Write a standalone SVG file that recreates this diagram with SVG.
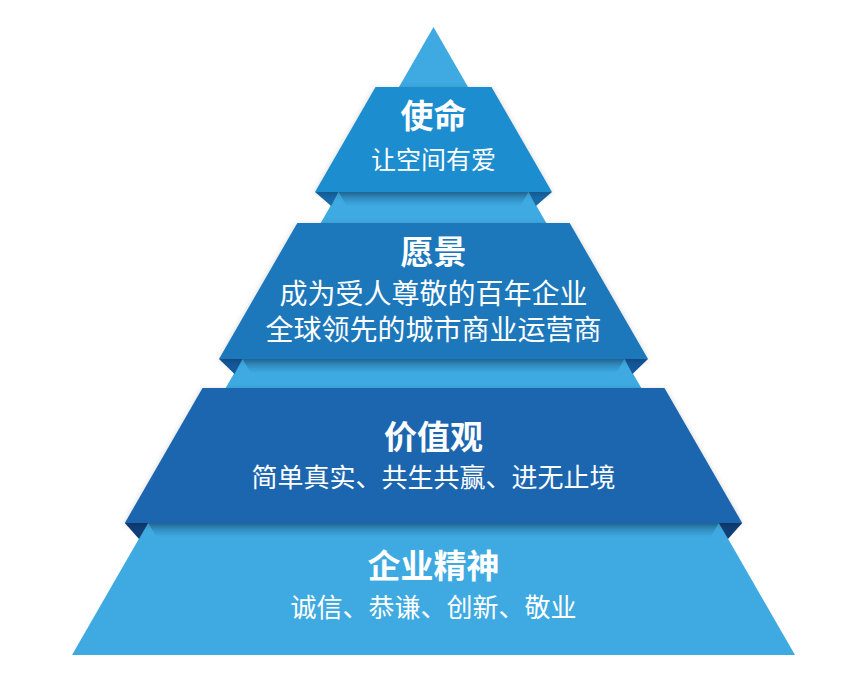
<svg xmlns="http://www.w3.org/2000/svg" width="859" height="688" viewBox="0 0 859 688">
  <style>
    .title { font-family: "Noto Sans CJK SC", "Noto Sans", sans-serif; font-weight: 700; font-size: 33px; fill: #ffffff; text-anchor: middle; }
    .body { font-family: "Noto Sans CJK SC", "Noto Sans", sans-serif; font-weight: 400; fill: #ffffff; text-anchor: middle; }
    .pyr { fill: #3eaae1; }
    .shade { fill: url(#shadeGrad); }
  </style>
  <defs>
    <linearGradient id="shadeGrad" x1="0" y1="0" x2="0" y2="1">
      <stop offset="0" stop-color="#0a3a6a" stop-opacity="0.45"/>
      <stop offset="1" stop-color="#0a3a6a" stop-opacity="0"/>
    </linearGradient>
    <filter id="drop" x="-10%" y="-10%" width="120%" height="130%">
      <feDropShadow dx="0" dy="2" stdDeviation="3" flood-color="#000" flood-opacity="0.22"/>
    </filter>
  </defs>
  <rect width="859" height="688" fill="#ffffff"/>

  <g id="pyramid">
    <polygon class="pyr" points="433.5,27 795,655 72,655"/>
    <polygon class="shade" points="338.6,192 528.4,192 520.4,206 346.6,206"/>
    <polygon class="shade" points="242.6,359 624.4,359 616.4,373 250.6,373"/>
    <polygon class="shade" points="148.3,523 718.7,523 710.7,537 156.3,537"/>
  </g>

  <g id="mission">
    <polygon points="315,192 338.6,192 331.1,206" fill="#176aa8"/>
    <polygon points="552,192 528.4,192 535.9,206" fill="#176aa8"/>
    <polygon points="375.5,87 491.5,87 552,192 315,192" fill="#1f8dce" filter="url(#drop)"/>
    <text class="title" x="433.5" y="128">使命</text>
    <text class="body" x="433.5" y="169" font-size="25">让空间有爱</text>
  </g>

  <g id="vision">
    <polygon points="219,359 242.6,359 234.5,374" fill="#14589b"/>
    <polygon points="648,359 624.4,359 632.5,374" fill="#14589b"/>
    <polygon points="297.3,223 569.7,223 648,359 219,359" fill="#1c77bb" filter="url(#drop)"/>
    <text class="title" x="433.5" y="264">愿景</text>
    <text class="body" x="433.5" y="304" font-size="28">成为受人尊敬的百年企业</text>
    <text class="body" x="433.5" y="340" font-size="28">全球领先的城市商业运营商</text>
  </g>

  <g id="values">
    <polygon points="124.8,523 148.3,523 139,539" fill="#0f3f79"/>
    <polygon points="742.2,523 718.7,523 728,539" fill="#0f3f79"/>
    <polygon points="202.5,388 664.5,388 742.2,523 124.8,523" fill="#1f66b0" filter="url(#drop)"/>
    <text class="title" x="433.5" y="449">价值观</text>
    <text class="body" x="433.5" y="487" font-size="26">简单真实、共生共赢、进无止境</text>
  </g>

  <g id="spirit">
    <text class="title" x="433.5" y="578">企业精神</text>
    <text class="body" x="433.5" y="617" font-size="26">诚信、恭谦、创新、敬业</text>
  </g>

  <g id="connectors"></g>
</svg>
